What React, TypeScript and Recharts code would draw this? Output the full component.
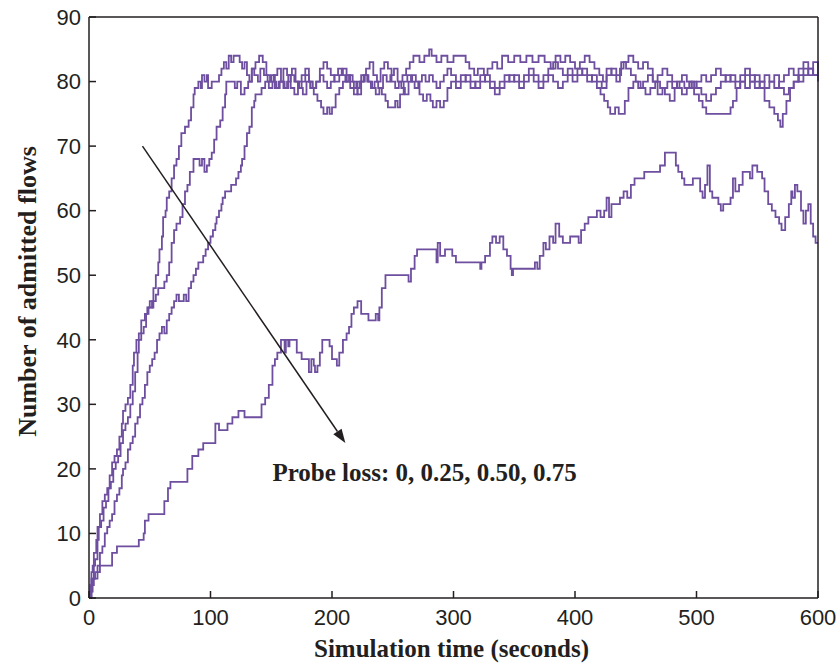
import { LineChart, Line, XAxis, YAxis, ReferenceLine, ReferenceDot } from 'recharts';

// number of admitted flows over time, one step trace per probe loss setting
const xTicks = [0, 100, 200, 300, 400, 500, 600];
const yTicks = [0, 10, 20, 30, 40, 50, 60, 70, 80, 90];

const loss0: [number, number][] = [
  [0, 0], [1, 2], [2, 4], [3, 5], [4, 7], [6, 9], [7, 11], [9, 13], [11, 15], [13, 16], [15, 17], [17, 19], [19, 21],
  [21, 22], [23, 23], [25, 25], [27, 27], [28, 29], [30, 30], [32, 31], [34, 33], [36, 36], [37, 38], [39, 40], [41, 41],
  [43, 43], [46, 44], [48, 45], [50, 46], [52, 45], [53, 48], [55, 50], [57, 52], [58, 54], [60, 56], [61, 59], [63, 60],
  [64, 62], [66, 63], [68, 65], [70, 67], [72, 68], [74, 70], [76, 72], [79, 73], [82, 74], [84, 76], [86, 78], [87, 79],
  [90, 80], [92, 79], [93, 81], [95, 80], [97, 81], [98, 79], [101, 80], [105, 80], [107, 81], [109, 82], [111, 83],
  [113, 82], [115, 84], [117, 83], [119, 84], [122, 84], [124, 83], [126, 82], [128, 83], [130, 81], [132, 80], [134, 82],
  [136, 81], [139, 80], [141, 82], [144, 81], [147, 80], [150, 81], [153, 79], [156, 80], [160, 82], [163, 81], [166, 79],
  [169, 78], [172, 80], [175, 81], [178, 82], [181, 80], [184, 79], [187, 80], [190, 82], [193, 83], [196, 82], [199, 81],
  [202, 80], [206, 81], [209, 82], [212, 80], [215, 79], [218, 78], [221, 80], [224, 81], [228, 82], [231, 83], [234, 81],
  [237, 80], [240, 82], [243, 83], [246, 82], [249, 80], [252, 79], [255, 80], [258, 81], [261, 82], [264, 83], [267, 84],
  [272, 83], [276, 84], [280, 85], [282, 84], [286, 83], [290, 84], [295, 83], [300, 84], [305, 84], [310, 83], [313, 82],
  [317, 81], [320, 82], [325, 81], [328, 82], [332, 83], [336, 82], [340, 84], [345, 83], [350, 84], [355, 83], [360, 84],
  [365, 83], [370, 84], [375, 83], [380, 82], [384, 84], [388, 83], [392, 84], [396, 83], [400, 82], [404, 83], [408, 84],
  [412, 83], [416, 82], [420, 81], [423, 80], [426, 82], [430, 81], [434, 80], [437, 82], [440, 83], [444, 84], [448, 83],
  [452, 82], [456, 83], [460, 82], [464, 80], [468, 78], [472, 79], [476, 80], [480, 79], [484, 80], [488, 81], [492, 80],
  [496, 79], [500, 80], [504, 81], [508, 80], [512, 81], [516, 82], [520, 81], [524, 80], [528, 81], [532, 80], [536, 81],
  [540, 82], [544, 81], [548, 80], [552, 79], [556, 77], [560, 76], [564, 75], [567, 74], [569, 73], [571, 75], [574, 77],
  [577, 79], [580, 80], [584, 81], [588, 82], [592, 81], [596, 83], [600, 82],
];

const loss25: [number, number][] = [
  [0, 0], [1, 1], [2, 3], [4, 5], [5, 6], [7, 9], [8, 11], [10, 12], [12, 14], [14, 15], [16, 17], [18, 18], [20, 20],
  [22, 21], [24, 22], [26, 24], [28, 26], [30, 27], [32, 28], [34, 30], [36, 32], [38, 35], [40, 38], [41, 40], [43, 41],
  [45, 42], [47, 44], [49, 45], [52, 46], [55, 47], [57, 48], [60, 48], [62, 49], [64, 50], [66, 52], [68, 55], [70, 57],
  [72, 58], [75, 59], [77, 61], [79, 63], [81, 64], [83, 66], [86, 68], [89, 68], [91, 67], [93, 68], [95, 66], [97, 67],
  [99, 68], [101, 69], [103, 71], [105, 73], [108, 74], [110, 76], [112, 78], [113, 80], [117, 80], [120, 79], [122, 80],
  [125, 78], [128, 79], [131, 80], [134, 82], [137, 83], [140, 84], [143, 83], [146, 81], [149, 80], [152, 81], [155, 82],
  [158, 80], [161, 79], [164, 81], [167, 82], [170, 80], [173, 79], [176, 78], [179, 80], [182, 79], [185, 78], [188, 77],
  [191, 76], [193, 75], [196, 76], [198, 75], [200, 76], [203, 78], [206, 79], [209, 80], [212, 81], [215, 80], [218, 79],
  [221, 78], [224, 80], [227, 81], [230, 80], [233, 79], [236, 78], [239, 79], [242, 81], [245, 80], [248, 81], [251, 82],
  [254, 80], [257, 79], [260, 78], [263, 80], [266, 81], [269, 80], [272, 78], [275, 77], [278, 78], [281, 77], [283, 76],
  [286, 77], [289, 76], [292, 77], [295, 79], [298, 80], [302, 79], [306, 80], [310, 81], [314, 80], [318, 79], [322, 80],
  [326, 81], [330, 80], [334, 79], [338, 80], [342, 81], [346, 80], [350, 81], [354, 80], [358, 81], [362, 82], [366, 81],
  [370, 80], [374, 81], [378, 82], [382, 83], [386, 82], [390, 81], [394, 82], [398, 81], [402, 82], [406, 81], [410, 80],
  [414, 81], [418, 80], [422, 79], [426, 81], [430, 82], [434, 81], [438, 83], [442, 82], [446, 81], [450, 80], [454, 79],
  [458, 78], [462, 79], [466, 80], [470, 79], [474, 78], [478, 77], [482, 79], [486, 80], [490, 79], [494, 80], [498, 78],
  [502, 77], [505, 76], [508, 75], [511, 75], [526, 75], [528, 76], [530, 77], [533, 79], [536, 80], [540, 79], [544, 80],
  [548, 81], [552, 80], [556, 79], [560, 80], [564, 81], [568, 79], [572, 78], [576, 79], [580, 80], [584, 82], [588, 83],
  [592, 82], [596, 81], [600, 83],
];

const loss50: [number, number][] = [
  [0, 0], [2, 1], [3, 3], [5, 4], [7, 5], [9, 7], [11, 8], [13, 10], [15, 11], [17, 12], [19, 13], [21, 15], [23, 16],
  [25, 17], [27, 19], [28, 20], [30, 21], [32, 23], [34, 24], [36, 25], [38, 27], [40, 28], [42, 30], [44, 31], [46, 33],
  [48, 35], [50, 36], [52, 37], [54, 38], [56, 40], [58, 41], [60, 42], [62, 41], [64, 43], [66, 44], [68, 45], [70, 46],
  [72, 47], [74, 46], [76, 46], [78, 47], [80, 46], [82, 48], [84, 49], [86, 50], [88, 51], [90, 52], [92, 52], [94, 53],
  [96, 54], [98, 55], [100, 56], [102, 57], [104, 58], [105, 59], [107, 60], [109, 61], [110, 62], [112, 63], [115, 63],
  [117, 64], [119, 64], [121, 65], [123, 66], [125, 67], [126, 68], [128, 70], [130, 72], [132, 73], [134, 76], [136, 77],
  [137, 78], [140, 78], [142, 79], [145, 80], [148, 79], [151, 80], [154, 79], [157, 80], [160, 79], [163, 80], [166, 81],
  [169, 80], [172, 79], [175, 80], [178, 81], [181, 80], [184, 79], [187, 80], [190, 81], [193, 80], [196, 79], [199, 80],
  [202, 81], [205, 82], [208, 81], [211, 80], [214, 81], [217, 80], [220, 79], [223, 80], [226, 81], [229, 80], [232, 79],
  [235, 80], [238, 79], [241, 78], [244, 77], [246, 76], [249, 76], [252, 77], [254, 76], [256, 78], [259, 80], [262, 81],
  [265, 80], [268, 79], [271, 80], [274, 81], [277, 80], [280, 81], [283, 80], [286, 79], [289, 80], [292, 81], [295, 82],
  [298, 81], [302, 80], [306, 81], [310, 80], [314, 79], [318, 80], [322, 81], [326, 80], [330, 79], [334, 78], [338, 79],
  [342, 80], [346, 81], [350, 80], [354, 79], [358, 80], [362, 81], [366, 80], [370, 79], [374, 80], [378, 81], [382, 80],
  [386, 79], [390, 80], [394, 81], [398, 80], [402, 81], [406, 82], [410, 81], [414, 80], [418, 79], [421, 78], [424, 77],
  [427, 76], [429, 75], [433, 76], [436, 75], [439, 75], [441, 77], [444, 79], [448, 80], [452, 79], [456, 80], [460, 81],
  [464, 80], [468, 81], [472, 82], [476, 81], [480, 80], [484, 79], [488, 78], [492, 79], [496, 80], [500, 79], [504, 78],
  [508, 77], [512, 78], [516, 79], [520, 80], [524, 81], [528, 80], [532, 79], [536, 80], [540, 81], [544, 80], [548, 79],
  [552, 80], [556, 81], [560, 80], [564, 79], [568, 80], [572, 81], [576, 82], [580, 81], [584, 80], [588, 81], [592, 82],
  [596, 81], [600, 80],
];

const loss75: [number, number][] = [
  [0, 0], [2, 2], [4, 3], [7, 4], [9, 5], [17, 5], [19, 7], [23, 8], [37, 8], [41, 9], [45, 10], [46, 12], [49, 13],
  [58, 13], [62, 15], [65, 17], [67, 18], [77, 18], [81, 20], [85, 22], [90, 23], [94, 24], [102, 24], [104, 27], [107, 26],
  [110, 26], [114, 27], [118, 28], [123, 29], [128, 28], [140, 28], [142, 30], [145, 31], [148, 33], [151, 36], [153, 37],
  [155, 38], [158, 40], [160, 40], [161, 38], [162, 40], [164, 39], [165, 40], [168, 40], [171, 38], [175, 37], [180, 37],
  [181, 35], [183, 37], [185, 36], [186, 35], [188, 36], [190, 38], [192, 40], [195, 40], [198, 39], [200, 37], [204, 36],
  [206, 38], [209, 40], [212, 41], [214, 42], [216, 44], [218, 45], [221, 46], [224, 44], [227, 44], [230, 43], [236, 44],
  [238, 43], [239, 45], [241, 48], [244, 50], [262, 50], [263, 49], [265, 51], [268, 53], [270, 54], [285, 54], [286, 52],
  [287, 55], [289, 53], [291, 53], [293, 54], [297, 54], [299, 53], [302, 52], [321, 52], [322, 51], [323, 52], [326, 53],
  [330, 55], [332, 56], [335, 55], [338, 56], [341, 54], [344, 53], [347, 51], [348, 50], [349, 51], [365, 51], [367, 52],
  [369, 51], [371, 53], [374, 55], [376, 54], [379, 56], [382, 55], [384, 58], [387, 56], [390, 55], [393, 55], [396, 56],
  [401, 56], [403, 55], [405, 57], [408, 58], [411, 59], [415, 59], [418, 60], [421, 59], [424, 60], [426, 62], [428, 59],
  [430, 61], [434, 61], [437, 62], [440, 63], [443, 62], [446, 64], [449, 65], [455, 65], [457, 66], [467, 66], [470, 67],
  [474, 69], [480, 69], [483, 67], [485, 66], [488, 65], [490, 64], [495, 64], [497, 65], [502, 65], [503, 63], [505, 62],
  [507, 64], [509, 67], [511, 63], [513, 62], [516, 62], [518, 61], [520, 60], [522, 61], [526, 61], [528, 62], [530, 65],
  [532, 63], [535, 64], [538, 66], [542, 66], [544, 65], [546, 67], [550, 66], [554, 65], [556, 63], [559, 61], [562, 60],
  [565, 59], [568, 58], [570, 57], [573, 59], [576, 61], [578, 63], [579, 62], [581, 64], [583, 63], [586, 60], [588, 58],
  [590, 60], [592, 61], [594, 58], [596, 56], [598, 55], [600, 55],
];

const traces = [loss0, loss25, loss50, loss75];

// annotation arrow, in data units (seconds, flows)
const arrowFrom = { t: 44, v: 70 };
const arrowTo = { t: 211, v: 24 };
const noteAt = { t: 151, v: 19.5 };
const noteText = 'Probe loss: 0, 0.25, 0.50, 0.75';

const ink = '#231f20';
const purple = '#6e4f9f';
const sans = '"Liberation Sans", Arial, sans-serif';
const serif = '"Liberation Serif", "Times New Roman", serif';

const W = 839;
const H = 664;
const plot = { left: 89, top: 17, right: 818, bottom: 598 };

const toPoints = (arr: [number, number][]) => arr.map(([t, v]) => ({ t, v }));
const frameLine = { stroke: ink, strokeWidth: 1.5 };
const overlay: React.CSSProperties = { position: 'absolute', left: 0, top: 0, pointerEvents: 'none' };

const Arrow = (props: any) => {
  const { x1, y1, x2, y2 } = props;
  const a = Math.atan2(y2 - y1, x2 - x1);
  const len = 14;
  const half = 5;
  const bx = x2 - len * Math.cos(a);
  const by = y2 - len * Math.sin(a);
  const pts = [
    `${x2},${y2}`,
    `${bx + half * Math.sin(a)},${by - half * Math.cos(a)}`,
    `${bx - half * Math.sin(a)},${by + half * Math.cos(a)}`,
  ].join(' ');
  return (
    <g>
      <line x1={x1} y1={y1} x2={bx} y2={by} stroke={ink} strokeWidth={1.5} />
      <polygon points={pts} fill={ink} />
    </g>
  );
};

// top edge of the box: a plain bottom axis whose line sits on the plot's top
function TopEdge() {
  return (
    <LineChart width={W} height={H} style={overlay}
      margin={{ top: 0, right: W - plot.right, bottom: 0, left: plot.left }}>
      <XAxis dataKey="t" type="number" domain={[0, 600]} ticks={xTicks} height={H - plot.top}
        tick={false} tickSize={7} axisLine={frameLine} tickLine={frameLine} />
      <YAxis hide domain={[0, 90]} />
      <Line data={toPoints(loss0)} dataKey="v" stroke="none" dot={false} activeDot={false} isAnimationActive={false} />
    </LineChart>
  );
}

// right edge of the box: a plain left axis whose line sits on the plot's right side
function RightEdge() {
  return (
    <LineChart width={W} height={H} style={overlay}
      margin={{ top: plot.top, right: 0, bottom: H - plot.bottom, left: 0 }}>
      <XAxis hide dataKey="t" type="number" domain={[0, 600]} />
      <YAxis type="number" domain={[0, 90]} ticks={yTicks} width={plot.right}
        tick={false} tickSize={7} axisLine={frameLine} tickLine={frameLine} />
      <Line data={toPoints(loss0)} dataKey="v" stroke="none" dot={false} activeDot={false} isAnimationActive={false} />
    </LineChart>
  );
}

export default function App() {
  return (
    <div style={{ position: 'absolute', left: 0, top: 0, width: W, height: H, background: '#fff' }}>
      <LineChart width={W} height={H} style={overlay}
        margin={{ top: plot.top, right: W - plot.right, bottom: 0, left: 0 }}>
        <XAxis
          dataKey="t"
          type="number"
          domain={[0, 600]}
          ticks={xTicks}
          height={H - plot.bottom}
          allowDuplicatedCategory={false}
          tickSize={-7}
          tickMargin={18}
          axisLine={frameLine}
          tickLine={frameLine}
          tick={{ fill: ink, fontSize: 22, fontFamily: sans }}
          label={{
            content: (p: any) => {
              const vb = p.viewBox;
              return (
                <text x={vb.x + vb.width / 2 - 2} y={vb.y + 59} textAnchor="middle" fill={ink}
                  style={{ fontFamily: serif, fontWeight: 'bold', fontSize: 25 }}>
                  Simulation time (seconds)
                </text>
              );
            },
          }}
        />
        <YAxis
          type="number"
          domain={[0, 90]}
          ticks={yTicks}
          width={plot.left}
          tickSize={-7}
          tickMargin={15}
          axisLine={frameLine}
          tickLine={frameLine}
          tick={{ fill: ink, fontSize: 22, fontFamily: sans }}
          label={{
            content: (p: any) => {
              const vb = p.viewBox;
              const cx = 27;
              const cy = vb.y + vb.height / 2 - 16;
              return (
                <text x={cx} y={cy} transform={`rotate(-90 ${cx} ${cy})`} textAnchor="middle"
                  dominantBaseline="central" fill={ink}
                  style={{ fontFamily: serif, fontWeight: 'bold', fontSize: 26 }}>
                  Number of admitted flows
                </text>
              );
            },
          }}
        />
        {traces.map((tr, i) => (
          <Line
            key={i}
            data={toPoints(tr)}
            dataKey="v"
            type="stepAfter"
            stroke={purple}
            strokeWidth={1.8}
            dot={false}
            activeDot={false}
            isAnimationActive={false}
          />
        ))}
        <ReferenceLine
          segment={[{ x: arrowFrom.t, y: arrowFrom.v }, { x: arrowTo.t, y: arrowTo.v }]}
          shape={Arrow}
        />
        <ReferenceDot
          x={noteAt.t}
          y={noteAt.v}
          r={0}
          fill="none"
          stroke="none"
          label={{
            content: (p: any) => {
              const vb = p.viewBox;
              return (
                <text x={vb.x} y={vb.y} dominantBaseline="central" fill={ink}
                  style={{ fontFamily: serif, fontWeight: 'bold', fontSize: 25 }}>
                  {noteText}
                </text>
              );
            },
          }}
        />
      </LineChart>
      <TopEdge />
      <RightEdge />
    </div>
  );
}
